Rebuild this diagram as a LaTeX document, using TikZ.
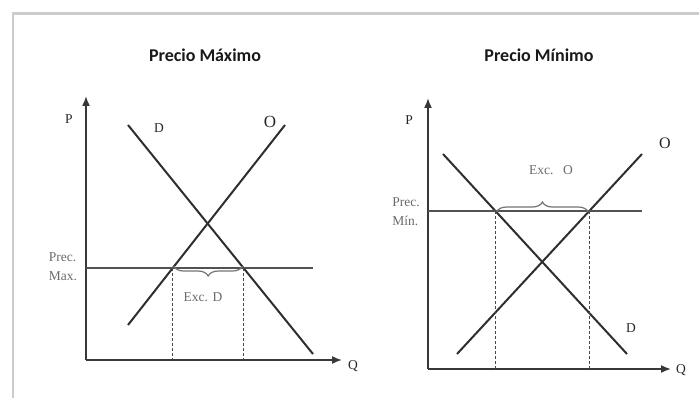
\documentclass[tikz,border=0pt]{standalone}
\usepackage{fontspec}
\setmainfont{Liberation Serif}
\newfontfamily\titlefont{Carlito}
\usetikzlibrary{arrows.meta,decorations.pathreplacing}
\begin{document}
\begin{tikzpicture}[x=1pt,y=-1pt,
  axis/.style={draw=black!78,line width=1.6pt,-{Latex[length=10pt,width=8pt]}},
  curve/.style={draw=black!82,line width=2pt},
  price/.style={draw=black!68,line width=1.7pt},
  guide/.style={draw=black!72,line width=1.2pt,dash pattern=on 3pt off 2pt},
  lbl/.style={font=\fontsize{13.5}{13.5}\selectfont,text=black!85,inner sep=0pt},
  glbl/.style={font=\fontsize{13.5}{19}\selectfont,text=black!58,inner sep=0pt,align=left},
  ttl/.style={font=\titlefont\bfseries\fontsize{18}{18}\selectfont,inner sep=0pt,text=black!90},
  bracestyle/.style={draw=black!55,line width=1.2pt,decorate,decoration={brace,amplitude=10pt}},
  frame/.style={draw=black!20,line width=2.5pt}]
\useasboundingbox (0,0) rectangle (699,398);
\coordinate (f1) at (699,13.5);
\coordinate (f0) at (13,13.5);
\coordinate (f2) at (13,398);
\draw[frame] (f1) -- (f0) -- (f2);

% ---------- left panel ----------
\node[ttl] (t1) at (205,55) {Precio Máximo};
\coordinate (o1) at (86,360);
\coordinate (py1) at (86,96);
\coordinate (qx1) at (342,360);
\draw[axis] (o1) -- (py1);
\draw[axis] (o1) -- (qx1);
\node[lbl] (P1) at (69,119) {P};
\node[lbl] (Q1) at (353,366) {Q};
\coordinate (d1a) at (128,125);
\coordinate (d1b) at (313,354);
\coordinate (s1a) at (128,325);
\coordinate (s1b) at (285,125);
\draw[curve] (d1a) -- (d1b);
\draw[curve] (s1a) -- (s1b);
\node[lbl] (D1) at (159,128) {D};
\node[lbl,font=\fontsize{17}{17}\selectfont] (O1) at (270,122) {O};
\coordinate (m1a) at (86,268);
\coordinate (m1b) at (313,268);
\draw[price] (m1a) -- (m1b);
\coordinate (i1s) at (intersection of s1a--s1b and m1a--m1b);
\coordinate (i1d) at (intersection of d1a--d1b and m1a--m1b);
\draw[guide] (i1s) -- (i1s |- o1);
\draw[guide] (i1d) -- (i1d |- o1);
\draw[bracestyle] ([xshift=-1pt,yshift=2pt]i1d) -- ([xshift=1pt,yshift=2pt]i1s);
\node[glbl] (pm1) at (63,267) {Prec.\\Max.};
\node[glbl] (ex1) at (203,297) {Exc. D};

% ---------- right panel ----------
\node[ttl] (t2) at (539,55) {Precio Mínimo};
\coordinate (o2) at (428,369);
\coordinate (py2) at (428,98);
\coordinate (qx2) at (671,369);
\draw[axis] (o2) -- (py2);
\draw[axis] (o2) -- (qx2);
\node[lbl] (P2) at (409,120) {P};
\node[lbl] (Q2) at (681,370) {Q};
\coordinate (d2a) at (443,154);
\coordinate (d2b) at (627,354);
\coordinate (s2a) at (457,354);
\coordinate (s2b) at (642,154);
\draw[curve] (d2a) -- (d2b);
\draw[curve] (s2a) -- (s2b);
\node[lbl,font=\fontsize{16}{16}\selectfont] (O2) at (665,143) {O};
\node[lbl] (D2) at (631,328) {D};
\coordinate (m2a) at (428,211);
\coordinate (m2b) at (642,211);
\draw[price] (m2a) -- (m2b);
\coordinate (i2d) at (intersection of d2a--d2b and m2a--m2b);
\coordinate (i2s) at (intersection of s2a--s2b and m2a--m2b);
\draw[guide] (i2d) -- (i2d |- o2);
\draw[guide] (i2s) -- (i2s |- o2);
\draw[bracestyle] ([xshift=1pt,yshift=-1pt]i2d) -- ([xshift=-1pt,yshift=-1pt]i2s);
\node[glbl] (pm2) at (406,212) {Prec.\\Mín.};
\node[glbl] (ex2) at (551,170) {Exc.\hspace{0.7em}O};
\end{tikzpicture}
\end{document}
